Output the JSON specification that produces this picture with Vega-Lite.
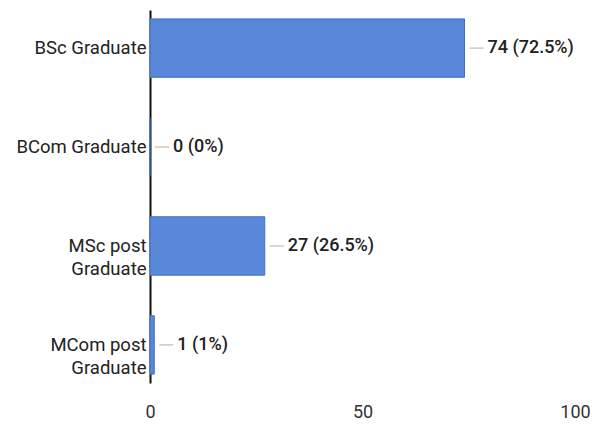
{
  "$schema": "https://vega.github.io/schema/vega-lite/v6.json",
  "width": 425,
  "height": 385,
  "autosize": {"type": "none"},
  "padding": {"left": 150, "top": 10, "right": 17, "bottom": 35},
  "background": "white",
  "config": {"view": {"stroke": null}, "font": "Roboto"},
  "data": {
    "values": [
      {"category": "BSc Graduate", "count": 74, "label": "74 (72.5%)"},
      {"category": "BCom Graduate", "count": 0, "label": "0 (0%)"},
      {"category": "MSc post Graduate", "count": 27, "label": "27 (26.5%)"},
      {"category": "MCom post Graduate", "count": 1, "label": "1 (1%)"}
    ]
  },
  "encoding": {
    "y": {
      "field": "category",
      "type": "nominal",
      "sort": null,
      "scale": {"paddingInner": 0.41, "paddingOuter": 0.09, "range": [0, 373]},
      "axis": {
        "title": null,
        "domain": true,
        "domainColor": "#111",
        "domainWidth": 2,
        "ticks": false,
        "labelFontSize": 18.5,
        "labelColor": "#222",
        "labelPadding": 4,
        "labelLineHeight": 23,
        "labelLimit": 160,
        "labelExpr": "indexof(datum.value, ' post ') > 0 ? [slice(datum.value, 0, indexof(datum.value, ' post ') + 5), 'Graduate'] : datum.value"
      }
    }
  },
  "layer": [
    {
      "mark": {"type": "bar", "color": "#5a88d8", "stroke": "#3f6fc4", "strokeWidth": 1},
      "encoding": {
        "x": {
          "field": "count",
          "type": "quantitative",
          "scale": {"domain": [0, 100]},
          "axis": {
            "title": null,
            "values": [0, 50, 100],
            "domain": false,
            "ticks": false,
            "grid": false,
            "labelFontSize": 18,
            "labelColor": "#333",
            "labelPadding": 8,
            "labelFlush": false
          }
        }
      }
    },
    {
      "mark": {"type": "rule", "color": "#c9b9a6", "strokeWidth": 1.2, "xOffset": 5, "x2Offset": 19},
      "encoding": {
        "x": {"field": "count", "type": "quantitative"},
        "x2": {"field": "count"}
      }
    },
    {
      "mark": {"type": "text", "align": "left", "dx": 23, "fontSize": 18, "fontWeight": 500, "color": "#222"},
      "encoding": {
        "x": {"field": "count", "type": "quantitative"},
        "text": {"field": "label"}
      }
    }
  ]
}
